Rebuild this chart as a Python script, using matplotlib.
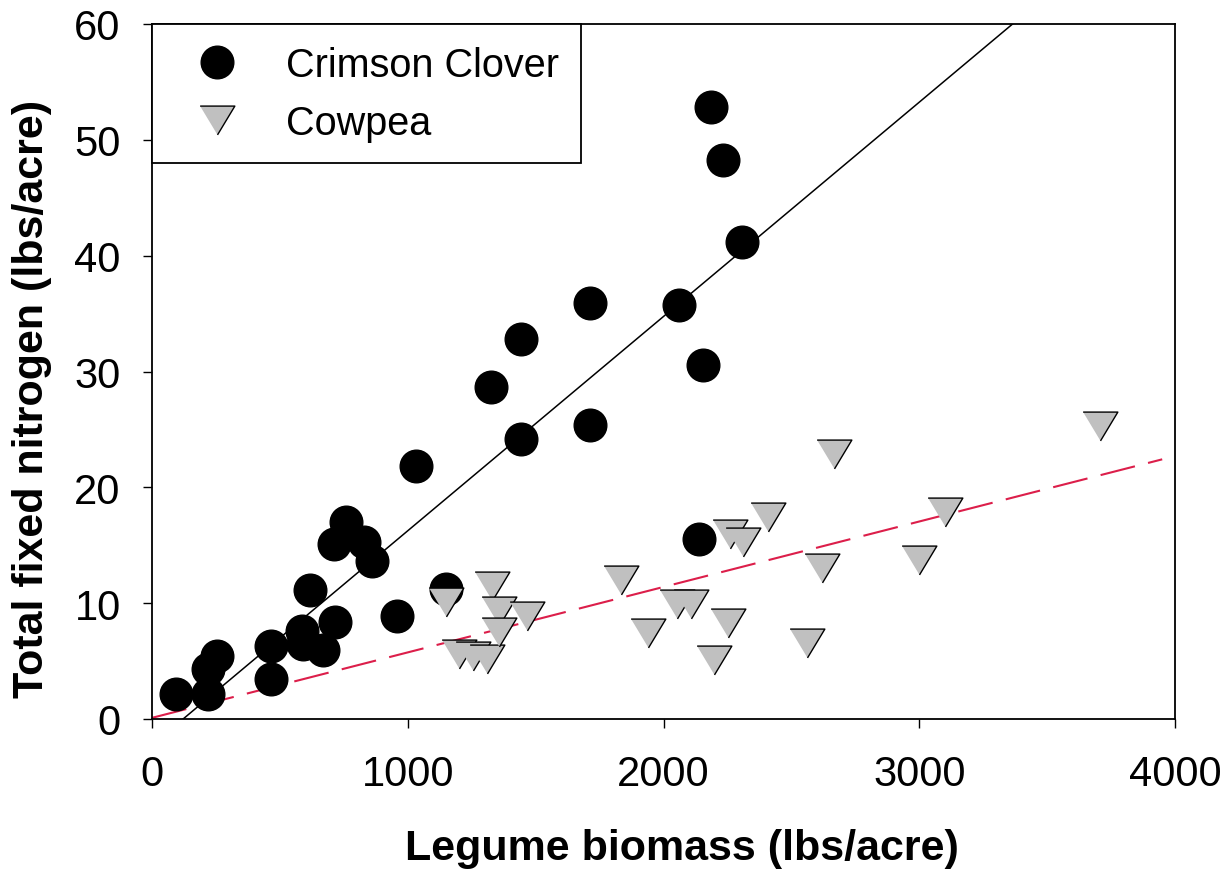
import matplotlib
matplotlib.use('Agg')
import matplotlib.pyplot as plt
import numpy as np

plt.rcParams['font.family'] = ['Liberation Sans', 'DejaVu Sans']

### values
clover_x = [94, 219, 219, 254, 465, 465, 587, 590, 669, 716, 618, 712, 759, 829, 860, 958,
            1150, 1032, 1443, 1326, 1443, 1713, 1713, 2061, 2154, 2186, 2233, 2307, 2139]
clover_y = [2.2, 2.2, 4.3, 5.4, 6.3, 3.45, 7.6, 6.5, 6.0, 8.4, 11.1, 15.1, 17.0, 15.3, 13.6, 8.9,
            11.2, 21.8, 24.2, 28.7, 32.8, 35.9, 25.4, 35.7, 30.6, 52.8, 48.3, 41.2, 15.5]

cowpea_x = [1150, 1201, 1256, 1309, 1328, 1358, 1358, 1465, 1835, 2666, 3705, 3102, 2407, 2260,
            2311, 2619, 2999, 2053, 2109, 1939, 2251, 2197, 2563]
cowpea_y = [10.1, 5.6, 5.4, 5.2, 11.5, 9.35, 7.5, 8.9, 12.0, 22.9, 25.3, 17.9, 17.4, 16.0,
            15.3, 13.0, 13.7, 9.9, 9.9, 7.4, 8.3, 5.1, 6.6]

# regression lines (slope, intercept, x range) as drawn in the figure
clover_fit = [0.0185, -2.25]
clover_fit_x = [0, 4000]
cowpea_fit = [0.00565, 0.1]
cowpea_fit_x = [0, 3950]

fig = plt.figure(figsize=(12.26, 8.79), dpi=100)
ax = fig.add_axes([152/1226., 1-720/879., 1023/1226., 695/879.])

xx = np.array(clover_fit_x, dtype=float)
ax.plot(xx, clover_fit[0]*xx+clover_fit[1], color='k', lw=1.1, zorder=1)
xx = np.array(cowpea_fit_x, dtype=float)
ax.plot(xx, cowpea_fit[0]*xx+cowpea_fit[1], color='#dc1e4a', lw=1.5, dashes=(17, 6.5), zorder=1)

tri = [(-1, 0.83), (1, 0.83), (0, -0.83)]
ax.plot(clover_x, clover_y, 'o', ms=23.5, color='k', mec='k', ls='none', zorder=2, label='Crimson Clover')
ax.plot(cowpea_x, cowpea_y, marker=tri, ms=25, mfc='#c0c0c0', mec='k', mew=1.0, ls='none',
        zorder=3, label='Cowpea')

ax.set_xlim(0, 4000)
ax.set_ylim(0, 60)
ax.set_xticks([0, 1000, 2000, 3000, 4000])
ax.set_yticks([0, 10, 20, 30, 40, 50, 60])
ax.tick_params(direction='out', length=6.5, width=1, labelsize=30)
ax.tick_params(axis='x', pad=19)
ax.tick_params(axis='y', pad=16)
for s in ax.spines.values():
  s.set_linewidth(1.3)

ax.set_xlabel('Legume biomass (lbs/acre)', fontsize=31, fontweight='bold')
ax.set_ylabel('Total fixed nitrogen (lbs/acre)', fontsize=31, fontweight='bold')
ax.xaxis.set_label_coords(0.518, -0.157)
ax.yaxis.set_label_coords(-0.098, 0.462)

leg = ax.legend(loc='upper left', bbox_to_anchor=(0, 1), borderaxespad=0, fancybox=False,
                edgecolor='k', framealpha=1, fontsize=28.5, handletextpad=0.63, borderpad=0.55,
                labelspacing=0.5, handlelength=2.2)
leg.get_frame().set_linewidth(1.3)

fig.savefig('out.png', dpi=100)
